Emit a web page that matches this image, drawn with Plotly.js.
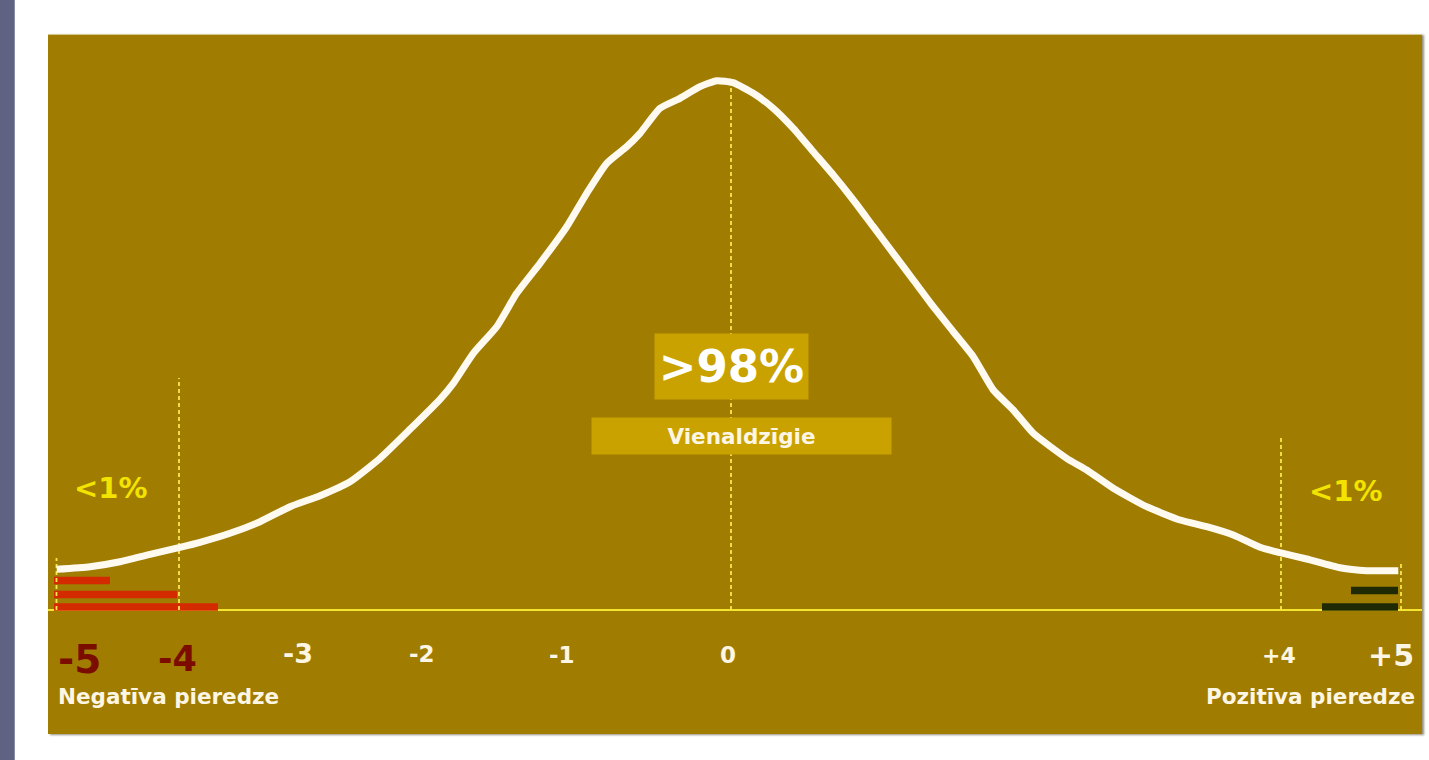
<!DOCTYPE html>
<html>
<head>
<meta charset="utf-8">
<script src="https://cdn.plot.ly/plotly-3.0.1.min.js"></script>
<style>
  html, body { margin: 0; padding: 0; background: #ffffff; width: 1429px; height: 760px; overflow: hidden; }
  #strip { position: absolute; left: 0; top: 0; width: 14px; height: 760px; background: #5f6282; border-right: 1px solid #8a8ca6; }
  #panel { position: absolute; left: 48px; top: 34px; width: 1374px; height: 700px; box-shadow: 2px 1px 2px rgba(60,50,20,0.55); border-top: 1px solid #d8c890; box-sizing: border-box; }
  #chart { width: 1374px; height: 699px; }
</style>
</head>
<body>
<div id="strip"></div>
<div id="panel"><div id="chart"></div></div>
<script>
// ---- data (x = position along the scale, y = relative share height above baseline) ----
const curvePos = [8.7, 42, 72, 102, 132, 152, 182, 212, 242, 272, 302, 332, 362, 392, 405.3, 425.3, 448.7, 468.7, 492, 518.7, 538.7, 558.7, 578.7, 592, 612, 632, 652, 668.7, 685, 705.3, 725.3, 745.3, 765.3, 785.3, 805.3, 825.3, 845.3, 865.3, 885.3, 905.3, 925.3, 945.3, 965.3, 985.3, 1018.7, 1038.7, 1065.3, 1098.7, 1132, 1158.7, 1185.3, 1212, 1232, 1258.7, 1292, 1318.7, 1350.3];
const curveVal = [40.7, 43.3, 48.3, 55.7, 62.7, 67.7, 76.7, 88.3, 103.3, 114.3, 128.3, 151.7, 180.7, 210.7, 226.7, 256.7, 283.3, 316.7, 346.7, 383.3, 416.7, 446.7, 463.3, 476.7, 501.7, 511.7, 523.3, 529.3, 527.3, 516.7, 501.7, 481.7, 458.3, 435, 410, 383.3, 356.7, 330, 303.3, 278.3, 253.3, 220, 200, 176.7, 151.7, 140, 121.7, 103.3, 90, 83.3, 75, 62.7, 57.3, 51, 42.3, 39.3, 39.3];

const negBarStart = [6, 6, 6];
const negBarLength = [56, 123, 164];
const negBarLevel = [29.5, 15.5, 3];

const posBarStart = [1303, 1274];
const posBarLength = [47, 76];
const posBarLevel = [19.5, 3];

const markerPos = [8.5, 131, 683, 1233, 1353];
const markerTop = [52, 232, 525, 175, 46];

const tickLabels = ['-5', '-4', '-3', '-2', '-1', '0', '+4', '+5'];
const tickPos = [31, 129, 249.5, 373.7, 514, 680, 1231, 1343];

const sideLabels = ['Negatīva pieredze', 'Pozitīva pieredze'];
const shareLabels = ['<1%', '>98%', '<1%'];
const centerLabel = 'Vienaldzīgie';

// ---- styles ----
const FONT = '"DejaVu Sans", "Open Sans", sans-serif';
const tickStyle = [
  {size: 39, color: '#7a0c00', y: -49.5},
  {size: 35, color: '#7a0c00', y: -49},
  {size: 27, color: '#fdf6e4', y: -43},
  {size: 23, color: '#fdf6e4', y: -44},
  {size: 23, color: '#fdf6e4', y: -44.5},
  {size: 23, color: '#fdf6e4', y: -45},
  {size: 22, color: '#fdf6e4', y: -45},
  {size: 30, color: '#fdf6e4', y: -45}
];

const traces = [];

// vertical dotted markers
markerPos.forEach((p, i) => {
  traces.push({
    type: 'scatter', mode: 'lines',
    x: [p, p], y: [0, markerTop[i]],
    line: {color: '#f8e64e', width: 1.8, dash: '4px,3px'},
    hoverinfo: 'skip', showlegend: false
  });
});

// bars
traces.push({
  type: 'bar', orientation: 'h',
  y: negBarLevel, x: negBarLength, base: negBarStart, width: 7.5,
  marker: {color: '#d42a00', line: {width: 0}},
  hoverinfo: 'skip', showlegend: false
});
traces.push({
  type: 'bar', orientation: 'h',
  y: posBarLevel, x: posBarLength, base: posBarStart, width: 7.5,
  marker: {color: '#1f2a05', line: {width: 0}},
  hoverinfo: 'skip', showlegend: false
});

// curve
traces.push({
  type: 'scatter', mode: 'lines',
  x: curvePos, y: curveVal,
  line: {color: '#fffaf0', width: 7, shape: 'spline', smoothing: 0.5},
  hoverinfo: 'skip', showlegend: false
});

const annotations = [];
tickLabels.forEach((t, i) => {
  annotations.push({
    x: tickPos[i], y: tickStyle[i].y, xref: 'x', yref: 'y',
    text: '<b>' + t + '</b>', showarrow: false, xanchor: 'center', yanchor: 'middle',
    font: {family: FONT, size: tickStyle[i].size, color: tickStyle[i].color}
  });
});
annotations.push({
  x: 120, y: -86, xref: 'x', yref: 'y', text: '<b>' + sideLabels[0] + '</b>', showarrow: false,
  xanchor: 'center', yanchor: 'middle', font: {family: FONT, size: 21.5, color: '#fdf6e4'}
});
annotations.push({
  x: 1262, y: -86, xref: 'x', yref: 'y', text: '<b>' + sideLabels[1] + '</b>', showarrow: false,
  xanchor: 'center', yanchor: 'middle', font: {family: FONT, size: 21.5, color: '#fdf6e4'}
});
annotations.push({
  x: 63, y: 122.5, xref: 'x', yref: 'y', text: '<b>' + shareLabels[0] + '</b>', showarrow: false,
  xanchor: 'center', yanchor: 'middle', font: {family: FONT, size: 29, color: '#f2e300'}
});
annotations.push({
  x: 1298, y: 119.5, xref: 'x', yref: 'y', text: '<b>' + shareLabels[2] + '</b>', showarrow: false,
  xanchor: 'center', yanchor: 'middle', font: {family: FONT, size: 29, color: '#f2e300'}
});
annotations.push({
  x: 683, y: 243.5, xref: 'x', yref: 'y', text: '<b>' + shareLabels[1] + '</b>', showarrow: false,
  xanchor: 'center', yanchor: 'middle', width: 149, height: 61, align: 'center', valign: 'middle',
  bgcolor: '#c9a200', borderpad: 2,
  font: {family: FONT, size: 45, color: '#ffffff'}
});
annotations.push({
  x: 693, y: 174.5, xref: 'x', yref: 'y', text: '<b>' + centerLabel + '</b>', showarrow: false,
  xanchor: 'center', yanchor: 'middle', width: 295, height: 32, align: 'center', valign: 'middle',
  bgcolor: '#c9a200', borderpad: 2,
  font: {family: FONT, size: 21.5, color: '#fdf6e4'}
});

const layout = {
  width: 1374, height: 699,
  margin: {l: 0, r: 0, t: 0, b: 0, pad: 0},
  paper_bgcolor: '#a07c00', plot_bgcolor: '#a07c00',
  barmode: 'overlay',
  showlegend: false,
  xaxis: {range: [0, 1374], visible: false, fixedrange: true},
  yaxis: {range: [-124, 575], showgrid: false, showticklabels: false, ticks: '',
          zeroline: true, zerolinecolor: '#f2e430', zerolinewidth: 2, fixedrange: true},
  annotations: annotations
};

Plotly.newPlot('chart', traces, layout, {displayModeBar: false, staticPlot: true});
</script>
</body>
</html>
